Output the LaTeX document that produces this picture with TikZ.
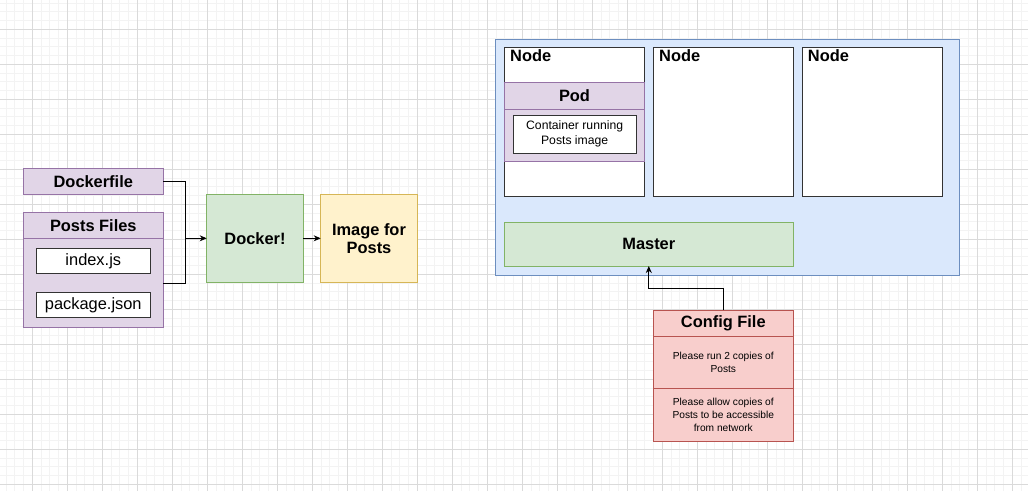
\documentclass[tikz,border=0pt]{standalone}
\usepackage{fontspec}
\setmainfont{Liberation Sans}
\usetikzlibrary{arrows.meta,calc}
\definecolor{purpF}{HTML}{E1D5E7}\definecolor{purpS}{HTML}{9673A6}
\definecolor{greenF}{HTML}{D5E8D4}\definecolor{greenS}{HTML}{82B366}
\definecolor{yelF}{HTML}{FFF2CC}\definecolor{yelS}{HTML}{D6B656}
\definecolor{blueF}{HTML}{DAE8FC}\definecolor{blueS}{HTML}{6C8EBF}
\definecolor{redF}{HTML}{F8CECC}\definecolor{redS}{HTML}{B85450}
\definecolor{gridMinor}{HTML}{F3F3F3}\definecolor{gridMajor}{HTML}{DADADA}
\definecolor{boxS}{HTML}{333333}
\begin{document}
\begin{tikzpicture}[x=1pt,y=-1pt,
  box/.style={draw, line width=1pt, inner sep=0pt, outer sep=0pt, align=center},
  purp/.style={box, fill=purpF, draw=purpS},
  grn/.style={box, fill=greenF, draw=greenS},
  yel/.style={box, fill=yelF, draw=yelS},
  blu/.style={box, fill=blueF, draw=blueS},
  red/.style={box, fill=redF, draw=redS},
  wht/.style={box, fill=white, draw=boxS},
  big/.style={font=\fontsize{16.4}{18.3}\selectfont},
  bigb/.style={font=\fontsize{16.4}{18.3}\selectfont\bfseries},
  mid/.style={font=\fontsize{12.2}{15}\selectfont},
  sml/.style={font=\fontsize{10.2}{13}\selectfont},
  conn/.style={line width=1pt, black, -{Stealth[length=7pt,width=6pt]}},
  minorline/.style={gridMinor, line width=1pt},
  majorline/.style={gridMajor, line width=1pt}
]
\useasboundingbox (0,0) rectangle (1028,491);
\fill[white] (0,0) rectangle (1028,491);
% grid
\foreach \i in {0,...,117} { \draw[minorline] ({6.05+8.75*\i},0) -- ++(0,491); }
\foreach \i in {0,...,55} { \draw[minorline] (0,{3.05+8.75*\i}) -- ++(1028,0); }
\foreach \i in {1,...,29} { \draw[majorline] ({-2.7+35*\i},0) -- ++(0,491); }
\foreach \i in {0,...,13} { \draw[majorline] (0,{29.3+35*\i}) -- ++(1028,0); }

% left part
\node[purp, bigb, minimum width=140pt, minimum height=26pt] (dockerfile) at (93.3,181.3) {Dockerfile};
\node[purp, minimum width=140pt, minimum height=115pt] (postsfiles) at (93.3,269.8) {};
\node[purp, bigb, minimum width=140pt, minimum height=26pt] (postshead) at (93.3,225.3) {Posts Files};
\node[wht, big, minimum width=114pt, minimum height=24.6pt] (indexjs) at (93.3,261) {index.js};
\node[wht, big, minimum width=114pt, minimum height=24.6pt] (packagejson) at (93.3,305) {package.json};
\node[grn, bigb, minimum width=96.6pt, minimum height=88pt] (docker) at (255,238.3) {Docker!};
\node[yel, bigb, minimum width=96.6pt, minimum height=88pt] (image) at (369,238.3) {Image for\\Posts};

\coordinate (join) at (185,238.3);
\coordinate (pfout) at (163.3,283.3);
\draw[line width=1pt] (dockerfile.east) -| (join);
\draw[line width=1pt] (pfout) -| (join);
\draw[conn] (join) -- (docker.west);
\draw[conn] (docker.east) -- (image.west);

% cluster
\node[blu, minimum width=463.6pt, minimum height=235.7pt] (cluster) at (727.5,157.15) {};
\node[wht, minimum width=140.4pt, minimum height=148.3pt] (node1) at (574.5,121.85) {};
\node[wht, minimum width=140pt, minimum height=148.3pt] (node2) at (723.3,121.85) {};
\node[wht, minimum width=140pt, minimum height=148.3pt] (node3) at (872,121.85) {};
\foreach \n in {node1,node2,node3} {
  \node[bigb, anchor=base west, inner sep=0pt] (\n lbl) at ($(\n.north west)+(5.7,14.2)$) {Node};
}
\node[purp, minimum width=140.4pt, minimum height=79pt] (pod) at (574.5,121.8) {};
\node[purp, bigb, minimum width=140.4pt, minimum height=26.7pt] (podhead) at (574.5,95.65) {Pod};
\node[wht, mid, minimum width=123.3pt, minimum height=38pt] (container) at (574.65,134) {Container running\\Posts image};
\node[grn, bigb, minimum width=289pt, minimum height=43.3pt] (master) at (648.8,244.35) {Master};

% config file
\node[red, minimum width=140pt, minimum height=131.7pt] (config) at (723.3,375.85) {};
\node[red, bigb, minimum width=140pt, minimum height=26.7pt] (confighead) at (723.3,323.35) {Config File};
\node[red, sml, minimum width=140pt, minimum height=52pt] (sec1) at (723.3,362.7) {Please run 2 copies of\\Posts};
\node[red, sml, minimum width=140pt, minimum height=53pt] (sec2) at (723.3,415.2) {Please allow copies of\\Posts to be accessible\\from network};

\coordinate (bend) at (723.3,288.3);
\draw[conn] (config.north) -- (bend) -| (master.south);
\end{tikzpicture}
\end{document}
